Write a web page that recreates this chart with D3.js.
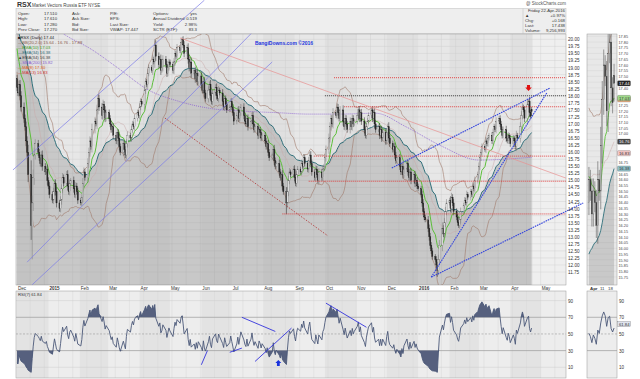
<!DOCTYPE html>
<html>
<head>
<meta charset="utf-8">
<script src="https://cdn.jsdelivr.net/npm/d3@7"></script>
<style>
  body { margin: 0; background: #fff; }
  svg { display: block; font-family: Arial, "Liberation Sans", sans-serif; }
</style>
</head>
<body>
<svg id="chart" width="640" height="379"></svg>
<script>
// ---- data ----
var warmupMonths = ['2014-10', '2014-11'];
var warmupCloses = [
  [21.6,21.4,21.2,21.0,20.8,21.1,20.9,20.6,20.4,20.7,20.9,21.2,21.0,21.3,21.5,21.2,21.4,21.1,20.9,21.2,21.4,21.0,20.8],
  [20.6,20.4,20.7,20.5,20.3,20.6,20.8,20.5,20.2,20.4,20.7,20.9,20.6,20.8,21.0,20.7,20.3,19.9,19.3,18.6]
];
var months = ['2014-12','2015-01','2015-02','2015-03','2015-04','2015-05','2015-06','2015-07','2015-08',
              '2015-09','2015-10','2015-11','2015-12','2016-01','2016-02','2016-03','2016-04'];
var closes = [
  [18.3,18.1,18.4,18.0,17.6,17.2,16.9,16.4,16.0,15.2,13.4,14.2,15.1,15.9,16.3,16.0,15.8,15.6,15.9,15.5,15.3,15.4,15.0],
  [14.8,14.5,14.3,14.6,14.9,14.6,14.2,14.0,14.3,14.7,15.1,14.9,15.2,14.8,14.6,14.9,15.0,14.7,14.5,14.8,14.6,14.3],
  [14.2,14.4,14.9,15.3,15.1,15.6,16.0,16.4,16.2,16.8,17.1,17.0,17.5,17.9,17.6,17.3,17.7,17.5,17.2,17.4],
  [17.2,17.0,16.8,16.9,16.6,16.4,16.7,16.5,16.2,16.0,16.3,16.1,15.9,16.3,16.6,16.5,16.8,17.0,16.9,17.2,17.4,17.3],
  [17.6,17.8,17.7,18.2,18.5,18.4,18.8,19.0,18.9,19.3,19.2,19.8,19.4,19.1,19.3,18.9,19.0,19.3,19.1,18.8,19.0,19.2],
  [19.1,18.9,19.2,19.5,19.4,19.7,19.6,19.9,20.0,19.8,19.5,19.7,19.3,19.0,19.2,18.8,18.9,18.6,18.8,18.5,18.7],
  [18.4,18.2,18.5,18.1,17.9,18.2,18.4,18.0,17.8,18.1,18.3,18.0,17.9,18.2,18.1,17.8,17.6,17.9,17.7,17.5,17.6,17.8],
  [17.6,17.4,17.1,17.3,17.5,17.2,17.4,17.6,17.3,17.1,17.0,17.2,16.9,17.1,17.3,17.0,16.8,16.9,16.6,16.8,16.7,16.5,16.6],
  [16.4,16.2,16.3,16.0,15.8,15.9,16.1,15.7,15.5,15.6,15.3,15.1,15.2,14.8,14.6,14.2,14.6,15.0,15.3,15.2,15.4],
  [15.1,14.9,15.2,15.4,15.3,15.6,15.5,15.8,15.6,15.4,15.7,15.9,15.6,15.3,15.1,15.4,15.2,15.0,15.3,15.1,15.4,15.5],
  [15.8,16.1,16.5,16.9,17.2,17.0,17.4,17.3,17.6,17.4,17.2,17.5,17.1,16.9,17.2,17.0,16.8,17.1,16.9,17.2,17.0,17.1],
  [17.3,17.5,17.2,17.4,17.1,16.8,16.6,16.9,17.1,17.3,17.5,17.2,17.4,17.0,16.8,16.9,16.6,16.8,16.5,16.7,16.4],
  [16.7,16.9,16.5,16.3,16.1,16.2,15.9,15.7,15.8,15.5,15.3,15.5,15.2,15.4,15.6,15.3,15.1,15.3,15.0,15.2,14.9,15.0,14.8],
  [14.7,14.5,14.2,13.9,13.7,13.6,13.3,13.0,12.7,12.5,12.3,12.2,12.0,11.8,12.2,12.7,13.3,13.1,13.5,13.9,14.2],
  [14.3,14.0,14.4,14.2,13.9,13.7,13.5,13.4,13.6,13.9,14.1,14.3,14.2,14.5,14.4,14.6,14.5,14.8,14.7,15.0,15.2],
  [15.5,15.8,16.0,16.2,16.1,16.4,16.3,16.5,16.6,16.4,16.7,16.9,16.8,17.1,17.2,17.0,16.8,16.6,16.8,16.5,16.4,16.6,16.5],
  [16.3,16.5,16.4,16.2,16.6,16.5,16.9,17.3,17.6,17.5,17.2,17.7,17.8,17.4,17.27,17.44]
];
var spikeLows = [['2014-12-16', 12.2], ['2015-08-24', 13.8], ['2016-01-20', 11.58]];
var sma200Points = [
  ['2014-12-20', 20.9], ['2015-01-20', 20.1], ['2015-02-10', 19.7], ['2015-03-10', 19.0], ['2015-04-10', 18.2],
  ['2015-05-10', 17.8], ['2015-06-10', 17.55], ['2015-07-15', 17.45], ['2015-08-15', 17.4], ['2015-09-15', 17.35],
  ['2015-10-15', 17.35], ['2015-11-20', 17.38], ['2015-12-20', 16.9], ['2016-01-25', 16.2], ['2016-03-01', 15.72],
  ['2016-04-22', 15.82]
];
var priceTicks = d3.range(11.75, 20.001, 0.25);
var smallTicks = d3.range(15.75, 17.851, 0.05);
var rsiTicks = [10, 30, 50, 70, 90];
var rsiPeriod = 7;
var levels = [[18.64, '2015-10-10'], [18.0, '2015-10-01'], [17.61, '2015-10-20'], [15.86, '2015-09-20'], [14.97, '2015-09-15'], [13.81, '2015-08-20']];
var trendLines = [
  ['2014-11-27', 15.37, '2015-06-04', 21.39, '#7b7be8', 0.7, null],
  ['2014-12-11', 12.1, '2015-07-20', 20.2, '#7b7be8', 0.7, null],
  ['2014-12-16', 11.3, '2015-08-10', 19.2, '#7b7be8', 0.7, null],
  ['2015-05-11', 20.05, '2016-05-26', 15.08, '#e89090', 0.7, null],
  ['2015-04-26', 17.21, '2015-10-04', 13.03, '#b03030', 0.8, '1.5,1.5'],
  ['2015-12-06', 15.44, '2016-05-10', 18.27, '#3344dd', 1.1, '1.6,0.8'],
  ['2016-01-14', 11.57, '2016-05-07', 18.10, '#3344dd', 1.1, '1.6,0.8'],
  ['2016-01-14', 11.57, '2016-06-12', 14.2, '#3344dd', 1.1, '1.6,0.8']
];
var rsiLines = [
  ['2015-06-01', 13, '2015-06-07', 30], ['2015-06-29', 28, '2015-07-11', 33],
  ['2015-07-11', 70, '2015-08-13', 53], ['2015-07-24', 17, '2015-08-29', 57],
  ['2015-10-02', 87, '2015-11-11', 58]
];

// ---- build series ----
var parse = d3.timeParse('%Y-%m-%d');
function monthDays(m) {
  var p = m.split('-').map(Number);
  return d3.timeDay.range(new Date(p[0], p[1] - 1, 1), new Date(p[0], p[1], 1))
    .filter(function(d) { return d.getDay() % 6 !== 0; });
}
var all = [];
warmupMonths.forEach(function(m, i) {
  var days = monthDays(m);
  warmupCloses[i].forEach(function(c, j) { all.push({date: days[j], close: c, show: false}); });
});
months.forEach(function(m, i) {
  var days = monthDays(m);
  closes[i].forEach(function(c, j) { all.push({date: days[j], close: c, show: true}); });
});
var cl = all.map(function(d) { return d.close; });
all.forEach(function(d, i) {
  d.open = i ? cl[i - 1] : d.close;
  var hi = Math.max(d.open, d.close), lo = Math.min(d.open, d.close);
  d.high = hi + 0.06 + (hi - lo) * 0.25;
  d.low = lo - 0.06 - (hi - lo) * 0.25;
});
spikeLows.forEach(function(s) {
  var t = +parse(s[0]);
  all.forEach(function(d) { if (+d.date === t) d.low = s[1]; });
});
var last = all[all.length - 1];
last.open = 17.51; last.high = 17.61; last.low = 17.28;

function ema(v, n) { var k = 2 / (n + 1), e = v[0]; return v.map(function(x, i) { if (i) e = x * k + e * (1 - k); return e; }); }
function bands(v, n, m) {
  return v.map(function(x, i) {
    var s = v.slice(Math.max(0, i - n + 1), i + 1), mu = d3.mean(s);
    var sd = Math.sqrt(d3.mean(s, function(q) { return (q - mu) * (q - mu); }));
    return {mid: mu, up: mu + m * sd, lo: mu - m * sd};
  });
}
function rsi(v, n) {
  var ag = 0, al = 0, out = [];
  for (var i = 0; i < v.length; i++) {
    if (i === 0) { out.push(50); continue; }
    var ch = v[i] - v[i - 1], g = Math.max(ch, 0), l = Math.max(-ch, 0);
    if (i <= n) { ag += g / n; al += l / n; }
    else { ag = (ag * (n - 1) + g) / n; al = (al * (n - 1) + l) / n; }
    out.push(al === 0 ? 100 : 100 - 100 / (1 + ag / al));
  }
  return out;
}
var e10 = ema(cl, 10), e34 = ema(cl, 34), bb = bands(cl, 20, 2), rs = rsi(cl, rsiPeriod);
all.forEach(function(d, i) { d.e10 = e10[i]; d.e34 = e34[i]; d.bb = bb[i]; d.rsi = rs[i]; });
var shown = all.filter(function(d) { return d.show; });
var tail = shown.slice(-18);

// ---- scales ----
var svg = d3.select('#chart');
var L = 16, R = 566, T = 34, B = 285;
var x = d3.scaleTime().domain([new Date(2014, 10, 30), new Date(2016, 4, 26)]).range([L, R]);
var y = d3.scaleLinear().domain([11.29, 20.19]).range([B, T]);
var rT = 291, rB = 378;
var yr = d3.scaleLinear().domain([0, 100]).range([375.6, 292.3]);
var sL = 587, sR = 617;
var xs = d3.scaleBand().domain(tail.map(function(d) { return +d.date; })).range([sL + 1, sR - 2]).padding(0.25);
var ys = d3.scaleLinear().domain([15.68, 17.87]).range([B, T]);

var defs = svg.append('defs');
defs.append('clipPath').attr('id', 'cp').append('rect').attr('x', L).attr('y', T).attr('width', R - L).attr('height', B - T);
defs.append('clipPath').attr('id', 'cr').append('rect').attr('x', L).attr('y', rT).attr('width', R - L).attr('height', rB - rT);
defs.append('clipPath').attr('id', 'cs').append('rect').attr('x', sL).attr('y', T).attr('width', sR - sL).attr('height', B - T);
defs.append('clipPath').attr('id', 'crs').append('rect').attr('x', sL).attr('y', rT).attr('width', sR - sL).attr('height', rB - rT);

// ---- header ----
svg.append('text').attr('x', 17).attr('y', 7).attr('font-size', 7).attr('font-weight', 'bold').attr('fill', '#333').text('RSX');
svg.append('text').attr('x', 32).attr('y', 7).attr('font-size', 4.5).attr('fill', '#444').text('Market Vectors Russia ETF  NYSE');
svg.append('text').attr('x', 566).attr('y', 5).attr('font-size', 4.5).attr('fill', '#555').attr('text-anchor', 'end').text('@ StockCharts.com');
svg.append('rect').attr('x', L).attr('y', 8.5).attr('width', R - L).attr('height', 25).attr('fill', '#eeeeee').attr('stroke', '#bbb').attr('stroke-width', 0.5);
svg.append('line').attr('x1', 523).attr('x2', 523).attr('y1', 8.5).attr('y2', 33.5).attr('stroke', '#bbb').attr('stroke-width', 0.5);
var info = [
  [18, 'start', ['Open:', 'High:', 'Low:', 'Prev Close:']],
  [44, 'start', ['17.510', '17.610', '17.280', '17.270']],
  [72, 'start', ['Ask:', 'Ask Size:', 'Bid:', 'Bid Size:']],
  [110, 'start', ['P/E:', 'EPS:', 'Last Size:', 'VWAP:  17.447']],
  [153, 'start', ['Options:', 'Annual Dividend:', 'Yield:', 'SCTR (ETF):']],
  [197, 'end', ['yes', '0.519', '2.98%', '83.3']],
  [525, 'start', ['', '\u25B2', 'Chg:', 'Last:', 'Volume:']],
  [565, 'end', ['Friday 22-Apr-2016', '+0.97%', '+0.168', '17.438', '9,256,993']]
];
info.forEach(function(col) {
  var rows = col[2].length === 4 ? [15, 20.3, 25.6, 30.9] : [12, 17, 22, 27, 32];
  col[2].forEach(function(t, i) {
    svg.append('text').attr('x', col[0]).attr('y', rows[i]).attr('font-size', 4.3).attr('fill', '#333')
      .attr('text-anchor', col[1]).text(t);
  });
});

// ---- price panel background ----
var monthStarts = d3.timeMonth.range(new Date(2014, 11, 1), new Date(2016, 5, 1));
var pan = svg.append('g');
pan.append('rect').attr('x', L).attr('y', T).attr('width', R - L).attr('height', B - T).attr('fill', '#e7e7e7');
var bandsG = pan.append('g').attr('clip-path', 'url(#cp)');
monthStarts.forEach(function(m, i) {
  if (i % 2) return;
  var nx = d3.timeMonth.offset(m, 1);
  bandsG.append('rect').attr('x', x(m)).attr('y', T).attr('width', x(nx) - x(m)).attr('height', B - T).attr('fill', '#e0e0e0');
  svg.append('rect').attr('x', x(m)).attr('y', rT).attr('width', x(nx) - x(m)).attr('height', rB - rT).attr('fill', '#e3e3e3').attr('class', 'rb');
});
bandsG.append('rect').attr('x', x(last.date) + 1).attr('y', T).attr('width', R - x(last.date) - 1).attr('height', B - T).attr('fill', '#efefef');
var grid = pan.append('g').attr('stroke', '#cdcdcd').attr('stroke-width', 0.4);
priceTicks.forEach(function(p) { grid.append('line').attr('x1', L).attr('x2', R).attr('y1', y(p)).attr('y2', y(p)); });
d3.timeWeek.every(2).range(new Date(2014, 11, 1), new Date(2016, 4, 26)).forEach(function(d) {
  grid.append('line').attr('x1', x(d)).attr('x2', x(d)).attr('y1', T).attr('y2', B);
});

// area under EMA(34)
var plot = svg.append('g').attr('clip-path', 'url(#cp)');
plot.append('path').datum(shown).attr('fill', 'rgba(80,80,80,0.2)')
  .attr('d', d3.area().x(function(d) { return x(d.date); }).y0(B).y1(function(d) { return y(d.e34); }));
function lineOf(fx, fy) { return d3.line().x(fx).y(fy); }
var px = function(d) { return x(d.date); };
plot.append('path').datum(shown).attr('fill', 'none').attr('stroke', '#a0786a').attr('stroke-width', 0.6)
  .attr('d', lineOf(px, function(d) { return y(d.bb.up); }));
plot.append('path').datum(shown).attr('fill', 'none').attr('stroke', '#a0786a').attr('stroke-width', 0.6)
  .attr('d', lineOf(px, function(d) { return y(d.bb.lo); }));
plot.append('path').datum(shown).attr('fill', 'none').attr('stroke', '#c8a8a8').attr('stroke-width', 0.5)
  .attr('d', lineOf(px, function(d) { return y(d.bb.mid); }));
plot.append('path').datum(sma200Points).attr('fill', 'none').attr('stroke', '#8a5ed0').attr('stroke-width', 0.8)
  .attr('stroke-dasharray', '1,1')
  .attr('d', d3.line().curve(d3.curveMonotoneX).x(function(d) { return x(parse(d[0])); }).y(function(d) { return y(d[1]); }));
plot.append('path').datum(shown).attr('fill', 'none').attr('stroke', '#2f6f7a').attr('stroke-width', 1)
  .attr('d', lineOf(px, function(d) { return y(d.e34); }));
plot.append('path').datum(shown).attr('fill', 'none').attr('stroke', '#5cbf3a').attr('stroke-width', 1)
  .attr('d', lineOf(px, function(d) { return y(d.e10); }));

// candles
var cg = plot.append('g');
shown.forEach(function(d) {
  var up = d.close >= d.open, cx = x(d.date);
  cg.append('line').attr('x1', cx).attr('x2', cx).attr('y1', y(d.high)).attr('y2', y(d.low))
    .attr('stroke', up ? '#777' : '#222').attr('stroke-width', 0.5);
  var top = y(Math.max(d.open, d.close)), h = Math.max(0.6, Math.abs(y(d.open) - y(d.close)));
  cg.append('rect').attr('x', cx - 0.6).attr('y', top).attr('width', 1.2).attr('height', h)
    .attr('fill', up ? '#e8e8e8' : '#2a2a2a').attr('stroke', up ? '#666' : '#222').attr('stroke-width', 0.3);
});

// annotations
levels.forEach(function(l) {
  plot.append('line').attr('x1', x(parse(l[1]))).attr('x2', R).attr('y1', y(l[0])).attr('y2', y(l[0]))
    .attr('stroke', l[0] === 18.0 ? '#333' : '#e03030').attr('stroke-width', 0.9).attr('stroke-dasharray', '1,1');
});
var ann = svg.append('g');
trendLines.forEach(function(t) {
  ann.append('line').attr('x1', x(parse(t[0]))).attr('y1', y(t[1])).attr('x2', x(parse(t[2]))).attr('y2', y(t[3]))
    .attr('stroke', t[4]).attr('stroke-width', t[5]).attr('stroke-dasharray', t[6]);
});
var ax = x(parse('2016-04-19')), ay = y(18.2);
ann.append('path').attr('d', 'M' + (ax - 1.5) + ',' + (ay - 5) + 'h3v2.5h1.8l-3.3,3.5l-3.3,-3.5h1.8z').attr('fill', '#e01010');
svg.append('text').attr('x', 284).attr('y', 45).attr('font-size', 5).attr('font-weight', 'bold').attr('fill', '#2233dd')
  .attr('text-anchor', 'middle').text('BangiDowns.com \u00A92016');

pan.append('rect').attr('x', L).attr('y', T).attr('width', R - L).attr('height', B - T).attr('fill', 'none').attr('stroke', '#999').attr('stroke-width', 0.5);

// legend
var legend = [
  ['\u25A0RSX (Daily) 17.44', '#222'], ['\u2014BB(20,2.0) 15.64 - 16.76 - 17.88', '#8a5a4a'], ['\u2014EMA(10) 17.03', '#3f9f2a'],
  ['\u2014EMA(34) 16.38', '#2f6f7a'], ['\u25B2EMA(34) 16.38', '#444'], ['\u2026SMA(200) 15.82', '#8a5ed0'],
  ['\u2014MA(8) 17.30', '#e06020'], ['\u2014MA(13) 16.83', '#d03030']
];
legend.forEach(function(l, i) {
  svg.append('text').attr('x', 18).attr('y', 39 + i * 5).attr('font-size', 4.2).attr('fill', l[1]).text(l[0]);
});

// price axis
svg.append('g').attr('transform', 'translate(' + (R + 2) + ',0)')
  .call(d3.axisRight(y).tickValues(priceTicks).tickFormat(d3.format('.2f')).tickSize(0))
  .call(function(g) { g.select('.domain').remove(); g.selectAll('text').attr('font-size', 4.6).attr('fill', '#333').attr('x', 0); });

// date axis
var fmt = function(d) { return d.getMonth() === 0 ? d3.timeFormat('%Y')(d) : d3.timeFormat('%b')(d); };
var xa = svg.append('g');
monthStarts.forEach(function(m) {
  if (m > new Date(2016, 4, 20)) return;
  xa.append('text').attr('x', x(m) + 1).attr('y', 289.5).attr('font-size', 4.6)
    .attr('font-weight', m.getMonth() === 0 ? 'bold' : 'normal').attr('fill', '#333').text(fmt(m));
});

// ---- RSI panel ----
svg.insert('rect', '.rb').attr('x', L).attr('y', rT).attr('width', R - L).attr('height', rB - rT).attr('fill', '#ededed');
var rg = svg.append('g').attr('stroke', '#d4d4d4').attr('stroke-width', 0.4);
d3.timeWeek.every(2).range(new Date(2014, 11, 1), new Date(2016, 4, 26)).forEach(function(d) {
  rg.append('line').attr('x1', x(d)).attr('x2', x(d)).attr('y1', rT).attr('y2', rB);
});
[70, 30].forEach(function(v) {
  svg.append('line').attr('x1', L).attr('x2', R).attr('y1', yr(v)).attr('y2', yr(v)).attr('stroke', '#999').attr('stroke-width', 0.7);
});
[90, 10].forEach(function(v) {
  svg.append('line').attr('x1', L).attr('x2', R).attr('y1', yr(v)).attr('y2', yr(v)).attr('stroke', '#ccc').attr('stroke-width', 0.5);
});
svg.append('line').attr('x1', L).attr('x2', R).attr('y1', yr(50)).attr('y2', yr(50)).attr('stroke', '#999').attr('stroke-width', 0.6).attr('stroke-dasharray', '2,1.5');
var rp = svg.append('g').attr('clip-path', 'url(#cr)');
rp.append('path').datum(shown).attr('fill', '#56607e')
  .attr('d', d3.area().x(px).y0(yr(70)).y1(function(d) { return yr(Math.max(70, d.rsi)); }));
rp.append('path').datum(shown).attr('fill', '#56607e')
  .attr('d', d3.area().x(px).y0(yr(30)).y1(function(d) { return yr(Math.min(30, d.rsi)); }));
rp.append('path').datum(shown).attr('fill', 'none').attr('stroke', '#4b5878').attr('stroke-width', 0.9)
  .attr('d', lineOf(px, function(d) { return yr(d.rsi); }));
rsiLines.forEach(function(t) {
  svg.append('line').attr('x1', x(parse(t[0]))).attr('y1', yr(t[1])).attr('x2', x(parse(t[2]))).attr('y2', yr(t[3]))
    .attr('stroke', '#3333dd').attr('stroke-width', 0.9);
});
var bx = x(parse('2015-08-16')), by = yr(14);
svg.append('path').attr('d', 'M' + bx + ',' + (by - 4) + 'l3,3h-1.6v3h-2.8v-3h-1.6z').attr('fill', '#1a33dd');
svg.append('rect').attr('x', L).attr('y', rT).attr('width', R - L).attr('height', rB - rT).attr('fill', 'none').attr('stroke', '#999').attr('stroke-width', 0.5);
svg.append('text').attr('x', 18).attr('y', 295.5).attr('font-size', 4.2).attr('fill', '#333').text('RSI(' + rsiPeriod + ') 61.84');
svg.append('g').attr('transform', 'translate(' + (R + 2) + ',0)')
  .call(d3.axisRight(yr).tickValues(rsiTicks).tickSize(0))
  .call(function(g) { g.select('.domain').remove(); g.selectAll('text').attr('font-size', 4.6).attr('fill', '#333').attr('x', 0); });

// ---- small right panels ----
svg.append('rect').attr('x', sL).attr('y', T).attr('width', sR - sL).attr('height', B - T).attr('fill', '#e8e8e8');
svg.append('rect').attr('x', sL).attr('y', rT).attr('width', sR - sL).attr('height', rB - rT).attr('fill', '#ededed');
var sg = svg.append('g').attr('stroke', '#d2d2d2').attr('stroke-width', 0.4);
smallTicks.forEach(function(p) { sg.append('line').attr('x1', sL).attr('x2', sR).attr('y1', ys(p)).attr('y2', ys(p)); });
var sp = svg.append('g').attr('clip-path', 'url(#cs)');
var sx = function(d) { return xs(+d.date) + xs.bandwidth() / 2; };
sp.append('path').datum(tail).attr('fill', 'rgba(80,80,80,0.2)')
  .attr('d', d3.area().x(sx).y0(B).y1(function(d) { return ys(d.e34); }));
sp.append('path').datum(tail).attr('fill', 'none').attr('stroke', '#a0786a').attr('stroke-width', 0.6)
  .attr('d', lineOf(sx, function(d) { return ys(d.bb.up); }));
sp.append('path').datum(tail).attr('fill', 'none').attr('stroke', '#c8a8a8').attr('stroke-width', 0.5)
  .attr('d', lineOf(sx, function(d) { return ys(d.bb.mid); }));
sp.append('path').datum(tail).attr('fill', 'none').attr('stroke', '#2f6f7a').attr('stroke-width', 0.9)
  .attr('d', lineOf(sx, function(d) { return ys(d.e34); }));
sp.append('path').datum(tail).attr('fill', 'none').attr('stroke', '#5cbf3a').attr('stroke-width', 0.9)
  .attr('d', lineOf(sx, function(d) { return ys(d.e10); }));
tail.forEach(function(d) {
  var up = d.close >= d.open, cx = sx(d);
  sp.append('line').attr('x1', cx).attr('x2', cx).attr('y1', ys(d.high)).attr('y2', ys(d.low)).attr('stroke', '#444').attr('stroke-width', 0.5);
  sp.append('rect').attr('x', cx - xs.bandwidth() / 2).attr('y', ys(Math.max(d.open, d.close)))
    .attr('width', xs.bandwidth()).attr('height', Math.max(0.6, Math.abs(ys(d.open) - ys(d.close))))
    .attr('fill', up ? '#e8e8e8' : '#333').attr('stroke', '#444').attr('stroke-width', 0.3);
});
svg.append('rect').attr('x', sL).attr('y', T).attr('width', sR - sL).attr('height', B - T).attr('fill', 'none').attr('stroke', '#999').attr('stroke-width', 0.5);
var tags = [[last.close, '17.44', '#222', '#fff'], [17.30, '17.30', '#f0b080', '#333'], [last.e10, '17.03', '#9fd98a', '#333'],
            [16.83, '16.83', '#f3c6c6', '#333'], [last.bb.mid, '16.76', '#444', '#fff'], [last.e34, '16.38', '#8fc0c8', '#333']];
var freeTicks = smallTicks.filter(function(p) {
  return tags.every(function(t) { return Math.abs(ys(p) - ys(t[0])) > 4.5; });
});
svg.append('g').attr('transform', 'translate(' + (sR + 1.5) + ',0)')
  .call(d3.axisRight(ys).tickValues(freeTicks).tickFormat(d3.format('.2f')).tickSize(0))
  .call(function(g) { g.select('.domain').remove(); g.selectAll('text').attr('font-size', 3.8).attr('fill', '#444').attr('x', 0); });
tags.forEach(function(t) {
  svg.append('rect').attr('x', sR + 0.5).attr('y', ys(t[0]) - 2.6).attr('width', 13).attr('height', 5.2).attr('rx', 1)
    .attr('fill', t[2]).attr('stroke', '#666').attr('stroke-width', 0.3);
  svg.append('text').attr('x', sR + 2).attr('y', ys(t[0]) + 1.6).attr('font-size', 4.2).attr('fill', t[3]).text(t[1]);
});
['Apr', '11', '18'].forEach(function(t, i) {
  svg.append('text').attr('x', [590, 600, 608][i]).attr('y', 289.5).attr('font-size', 4.4)
    .attr('font-weight', i ? 'normal' : 'bold').attr('fill', '#333').text(t);
});
[70, 30].forEach(function(v) {
  svg.append('line').attr('x1', sL).attr('x2', sR).attr('y1', yr(v)).attr('y2', yr(v)).attr('stroke', '#999').attr('stroke-width', 0.7);
});
svg.append('line').attr('x1', sL).attr('x2', sR).attr('y1', yr(50)).attr('y2', yr(50)).attr('stroke', '#999').attr('stroke-width', 0.6).attr('stroke-dasharray', '2,1.5');
var srp = svg.append('g').attr('clip-path', 'url(#crs)');
srp.append('path').datum(tail).attr('fill', 'none').attr('stroke', '#4b5878').attr('stroke-width', 0.9)
  .attr('d', lineOf(sx, function(d) { return yr(d.rsi); }));
svg.append('rect').attr('x', sL).attr('y', rT).attr('width', sR - sL).attr('height', rB - rT).attr('fill', 'none').attr('stroke', '#999').attr('stroke-width', 0.5);
var freeRsi = rsiTicks.filter(function(v) { return Math.abs(yr(v) - yr(61.84)) > 4.5; });
svg.append('g').attr('transform', 'translate(' + (sR + 2) + ',0)')
  .call(d3.axisRight(yr).tickValues(freeRsi).tickSize(0))
  .call(function(g) { g.select('.domain').remove(); g.selectAll('text').attr('font-size', 4.6).attr('fill', '#333').attr('x', 0); });
svg.append('rect').attr('x', sR + 0.5).attr('y', yr(61.84) - 2.6).attr('width', 13).attr('height', 5.2).attr('fill', '#dfe3ee').attr('stroke', '#666').attr('stroke-width', 0.3);
svg.append('text').attr('x', sR + 2).attr('y', yr(61.84) + 1.6).attr('font-size', 4.2).attr('fill', '#333').text('61.84');
</script>
</body>
</html>
